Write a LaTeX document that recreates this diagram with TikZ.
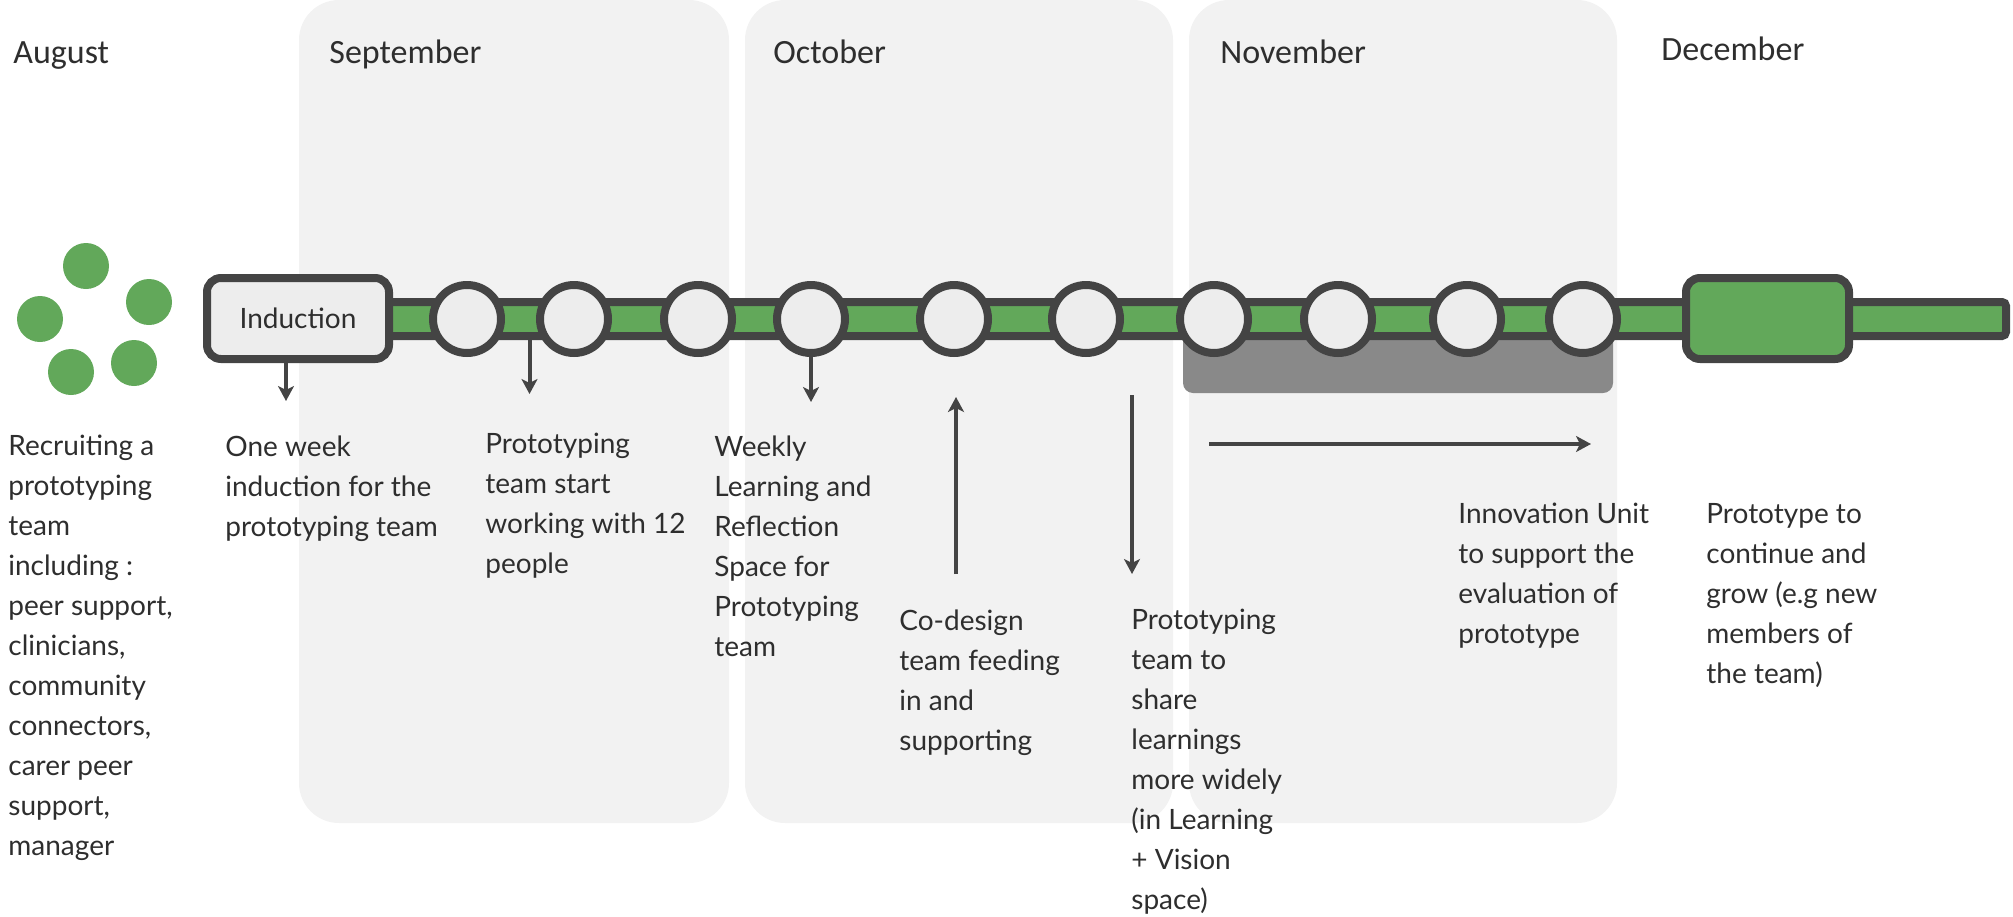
\documentclass[tikz,border=0pt]{standalone}
\usepackage{fontspec}
\newfontfamily\notefont{Lato}
\newfontfamily\monthfont{Carlito}
\usetikzlibrary{arrows.meta}
\definecolor{barGreen}{HTML}{62A85A}
\definecolor{edgeDark}{HTML}{444444}
\definecolor{stopFill}{HTML}{EDEDED}
\definecolor{panelGray}{HTML}{F2F2F2}
\definecolor{spanGray}{HTML}{898989}
\definecolor{inkGray}{HTML}{2E2E2E}

\begin{document}
\begin{tikzpicture}[
  x=0.5pt, y=-0.5pt,
  panel/.style={fill=panelGray, rounded corners=20pt},
  month/.style={anchor=base west, inner sep=0pt, font=\monthfont\fontsize{17}{20}\selectfont, text=inkGray},
  note/.style={anchor=north west, inner sep=0pt, align=left, font=\notefont\fontsize{14}{20}\selectfont, text=inkGray},
  bar/.style={draw=edgeDark, fill=barGreen, line width=4pt, rounded corners=2pt},
  stop/.style={circle, draw=edgeDark, fill=stopFill, line width=4pt, minimum size=34pt, inner sep=0pt},
  stage/.style={rectangle, draw=edgeDark, line width=4pt, rounded corners=7pt, minimum width=#1, minimum height=40.5pt, inner sep=0pt},
  dot/.style={circle, fill=barGreen, minimum size=23pt, inner sep=0pt},
  arr/.style={draw=edgeDark, line width=2pt, -{Stealth[length=7.5pt,width=8pt,inset=2pt]}},
]
  \useasboundingbox (0,0) rectangle (2013,916);

  \foreach \l/\r in {299/729,745/1173,1189/1617}
    \fill[panel] (\l,0) rectangle (\r,823);

  \node[month] (aug) at (13,63) {August};
  \node[month] (sep) at (329,63) {September};
  \node[month] (oct) at (773,63) {October};
  \node[month] (nov) at (1220,63) {November};
  \node[month] (dec) at (1661,60) {December};

  \foreach \x/\y [count=\i] in {86/266,40/319,149/302,71/372,134/363}
    \node[dot] (d\i) at (\x,\y) {};

  \fill[spanGray, rounded corners=5pt] (1183,300) rectangle (1613,393);
  \draw[bar] (385,302) rectangle (2006,336);

  \node[stage=91pt, fill=stopFill, font=\notefont\fontsize{14}{20}\selectfont, text=inkGray] (induction) at (298,318.5) {Induction};
  \node[stage=81.5pt, fill=barGreen] (handover) at (1767.5,318.5) {};
  \foreach \x [count=\i] in {467,574,698,811,954,1086,1214,1338,1467,1583}
    \node[stop] (c\i) at (\x,319) {};

  \coordinate (a1) at (286,401);
  \coordinate (a2s) at (529.5,340);
  \coordinate (a2) at (529.5,394);
  \coordinate (a3) at (811,402);
  \coordinate (a4s) at (956,574);
  \coordinate (a4) at (956,397);
  \coordinate (a5s) at (1132,395);
  \coordinate (a5) at (1132,574);
  \coordinate (a6s) at (1209,444);
  \coordinate (a6) at (1591,444);

  \draw[arr] (induction.south -| a1) -- (a1);
  \draw[arr] (a2s) -- (a2);
  \draw[arr] (c4.south) -- (a3);
  \draw[arr] (a4s) -- (a4);
  \draw[arr] (a5s) -- (a5);
  \draw[arr] (a6s) -- (a6);

  \node[note] (recruit) at (8,435) {Recruiting a\\prototyping\\team\\including :\\peer support,\\clinicians,\\community\\connectors,\\carer peer\\support,\\manager};
  \node[note] (induct) at (225,435) {One week\\induction for the\\prototyping team};
  \node[note] (start) at (485,433) {Prototyping\\team start\\working with 12\\people};
  \node[note] (weekly) at (714,435) {Weekly\\Learning and\\Reflection\\Space for\\Prototyping\\team};
  \node[note] (codesign) at (899,609) {Co-design\\team feeding\\in and\\supporting};
  \node[note] (share) at (1131,609) {Prototyping\\team to\\share\\learnings\\more widely\\(in Learning\\+ Vision\\space)};
  \node[note] (evaluate) at (1458,503) {Innovation Unit\\to support the\\evaluation of\\prototype};
  \node[note] (grow) at (1706,503) {Prototype to\\continue and\\grow (e.g new\\members of\\the team)};
\end{tikzpicture}
\end{document}
